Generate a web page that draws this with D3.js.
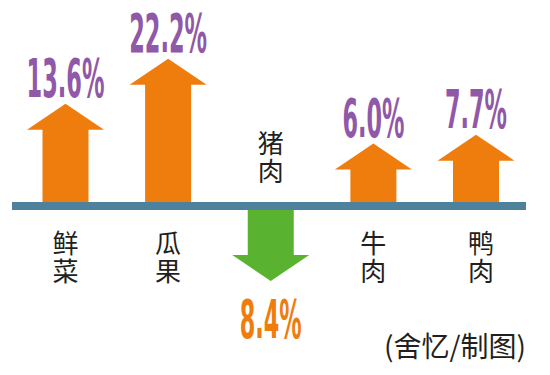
<!DOCTYPE html>
<html>
<head>
<meta charset="utf-8">
<script src="https://cdn.jsdelivr.net/npm/d3@7"></script>
<style>
  body { margin: 0; background: #fff; }
  svg { display: block; }
</style>
</head>
<body>
<script>
const w = 550;
const h = 375;

// data
const categories = ["鲜菜", "瓜果", "猪肉", "牛肉", "鸭肉"];
const changes = [13.6, 22.2, -8.4, 6.0, 7.7];
const valueLabels = ["13.6%", "22.2%", "8.4%", "6.0%", "7.7%"];
const credit = "(舍忆/制图)";

const axisY = 206;
const headW = 77, shaftW = 46, headH = 26;

const x = d3.scalePoint()
  .domain(categories)
  .range([65.5, 476]);

// arrow length from the axis line
const len = d3.scaleLinear()
  .domain([0, 25])
  .range([31, 162]);

const svg = d3.select("body")
  .append("svg")
  .attr("width", w)
  .attr("height", h);

const rows = categories.map((c, i) => ({ cat: c, v: changes[i], label: valueLabels[i] }));

// arrows
const arrowPath = d => {
  const cx = x(d.cat);
  const dir = d.v >= 0 ? -1 : 1;
  const start = axisY;
  const tip = axisY + dir * len(Math.abs(d.v));
  const base = tip - dir * headH;
  return "M" + (cx - shaftW / 2) + "," + start +
    "L" + (cx - shaftW / 2) + "," + base +
    "L" + (cx - headW / 2) + "," + base +
    "L" + cx + "," + tip +
    "L" + (cx + headW / 2) + "," + base +
    "L" + (cx + shaftW / 2) + "," + base +
    "L" + (cx + shaftW / 2) + "," + start + "Z";
};

svg.append("g")
  .selectAll("path")
  .data(rows)
  .enter().append("path")
  .attr("d", arrowPath)
  .attr("fill", d => d.v >= 0 ? "#ef7d0e" : "#5ab330");

// axis bar
svg.append("rect")
  .attr("x", 12)
  .attr("y", axisY - 4)
  .attr("width", 514)
  .attr("height", 8)
  .attr("fill", "#4e819b");

// value labels
svg.append("g")
  .selectAll("text")
  .data(rows)
  .enter().append("text")
  .attr("x", d => x(d.cat))
  .attr("y", d => d.v >= 0
    ? axisY - len(d.v) - 7
    : axisY + len(-d.v) + 57)
  .attr("text-anchor", "middle")
  .attr("font-family", "'DejaVu Sans', sans-serif")
  .attr("font-weight", "bold")
  .attr("font-size", 53)
  .attr("textLength", d => d.label.length * 16 - 2)
  .attr("lengthAdjust", "spacingAndGlyphs")
  .attr("fill", d => d.v >= 0 ? "#9058a8" : "#ef7d0e")
  .text(d => d.label);

// category labels, vertical
const catG = svg.append("g")
  .attr("font-family", "'Noto Sans CJK SC', sans-serif")
  .attr("font-size", 26)
  .attr("fill", "#231f20")
  .attr("text-anchor", "middle");

rows.forEach(d => {
  const chars = d.cat.split("");
  const first = d.v >= 0 ? axisY + 47 : axisY - 53;
  chars.forEach((ch, j) => {
    catG.append("text")
      .attr("x", x(d.cat) + (d.cat === "鸭肉" ? 5 : 0))
      .attr("y", first + j * 28)
      .text(ch);
  });
});

// credit
svg.append("text")
  .attr("x", 526)
  .attr("y", 357)
  .attr("text-anchor", "end")
  .attr("font-family", "'Noto Sans CJK SC', sans-serif")
  .attr("font-size", 28)
  .attr("fill", "#231f20")
  .text(credit);
</script>
</body>
</html>
